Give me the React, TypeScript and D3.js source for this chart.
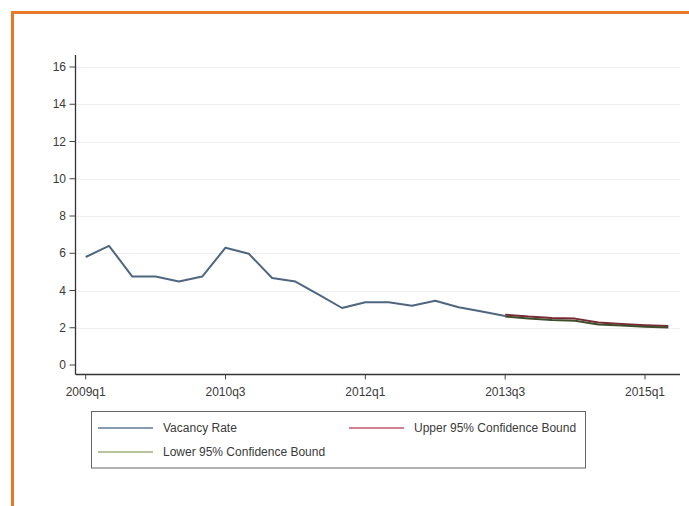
import { useMemo } from "react"
import * as d3 from "d3"

// quarter labels, 2009q1 .. 2015q2
const QUARTERS = d3.range(0, 26).map((i) => `${2009 + Math.floor(i / 4)}q${(i % 4) + 1}`)
const X_TICKS = ["2009q1", "2010q3", "2012q1", "2013q3", "2015q1"]
const Y_TICKS = [0, 2, 4, 6, 8, 10, 12, 14, 16]

const VACANCY = [
  5.8, 6.4, 4.75, 4.75, 4.48, 4.75, 6.3, 5.97, 4.67, 4.48,
  3.78, 3.06, 3.37, 3.37, 3.18, 3.45, 3.1, 2.87, 2.63,
]
const FORECAST_START = 18
const UPPER = [2.7, 2.6, 2.53, 2.49, 2.28, 2.2, 2.14, 2.1]
const LOWER = [2.6, 2.5, 2.42, 2.38, 2.18, 2.12, 2.06, 2.02]

const LEGEND = [
  { label: "Vacancy Rate", color: "#5f7b98" },
  { label: "Upper 95% Confidence Bound", color: "#c2576b" },
  { label: "Lower 95% Confidence Bound", color: "#9fae7c" },
]

const W = 689
const H = 506
const FONT = "'Liberation Sans', Arial, sans-serif"

export default function App() {
  const x = useMemo(() => d3.scaleLinear().domain([0, 24]).range([85.7, 645]), [])
  const y = useMemo(() => d3.scaleLinear().domain([0, 16]).range([365, 67]), [])

  const axisX = 75.5
  const axisY = 374.5
  const plotRight = 680
  const plotTop = 55

  const line = d3
    .line<[number, number]>()
    .x((d) => x(d[0]))
    .y((d) => y(d[1]))

  const vacPath = line(VACANCY.map((v, i) => [i, v]))
  const upPath = line(UPPER.map((v, i) => [i + FORECAST_START, v]))
  const lowPath = line(LOWER.map((v, i) => [i + FORECAST_START, v]))

  const legendPos = [
    { lx: 98, ly: 428 },
    { lx: 349, ly: 428 },
    { lx: 98, ly: 452 },
  ]

  return (
    <svg
      width={W}
      height={H}
      style={{ position: "absolute", left: 0, top: 0, background: "#fff" }}
      fontFamily={FONT}
    >
      {/* orange frame */}
      <rect x={12.5} y={12.5} width={W} height={H} fill="none" stroke="#e8792a" strokeWidth={3} />

      {/* grid */}
      {Y_TICKS.filter((t) => t > 0).map((t) => (
        <line
          key={`g${t}`}
          x1={axisX}
          x2={plotRight}
          y1={Math.round(y(t)) + 0.5}
          y2={Math.round(y(t)) + 0.5}
          stroke="#eef0f2"
          strokeWidth={1}
        />
      ))}

      {/* axes */}
      <line x1={axisX} x2={axisX} y1={plotTop} y2={axisY} stroke="#333" strokeWidth={1.3} />
      <line x1={axisX} x2={plotRight} y1={axisY} y2={axisY} stroke="#333" strokeWidth={1.3} />

      {Y_TICKS.map((t) => (
        <g key={`y${t}`}>
          <line x1={axisX - 6} x2={axisX} y1={y(t)} y2={y(t)} stroke="#444" strokeWidth={1} />
          <text x={66} y={y(t)} dy="0.35em" textAnchor="end" fontSize={12} fill="#3a3a3a">
            {t}
          </text>
        </g>
      ))}

      {X_TICKS.map((q) => {
        const cx = x(QUARTERS.indexOf(q))
        return (
          <g key={q}>
            <line x1={cx} x2={cx} y1={axisY} y2={axisY + 5} stroke="#444" strokeWidth={1} />
            <text x={cx} y={396} textAnchor="middle" fontSize={12} fill="#3a3a3a">
              {q}
            </text>
          </g>
        )
      })}

      {/* series */}
      <path d={vacPath ?? ""} fill="none" stroke="#4e6680" strokeWidth={2} strokeLinejoin="round" />
      <path d={upPath ?? ""} fill="none" stroke="#7a2a36" strokeWidth={2} strokeLinejoin="round" />
      <path d={lowPath ?? ""} fill="none" stroke="#3f4d2c" strokeWidth={2} strokeLinejoin="round" />

      {/* legend */}
      <rect x={91.5} y={411.5} width={494} height={56.5} fill="#fff" stroke="#666" strokeWidth={1} />
      {LEGEND.map((d, i) => {
        const { lx, ly } = legendPos[i]
        return (
          <g key={d.label}>
            <line x1={lx} x2={lx + 55} y1={ly} y2={ly} stroke={d.color} strokeWidth={1.5} />
            <text x={lx + 65} y={ly} dy="0.35em" fontSize={12} fill="#3a3a3a">
              {d.label}
            </text>
          </g>
        )
      })}
    </svg>
  )
}
